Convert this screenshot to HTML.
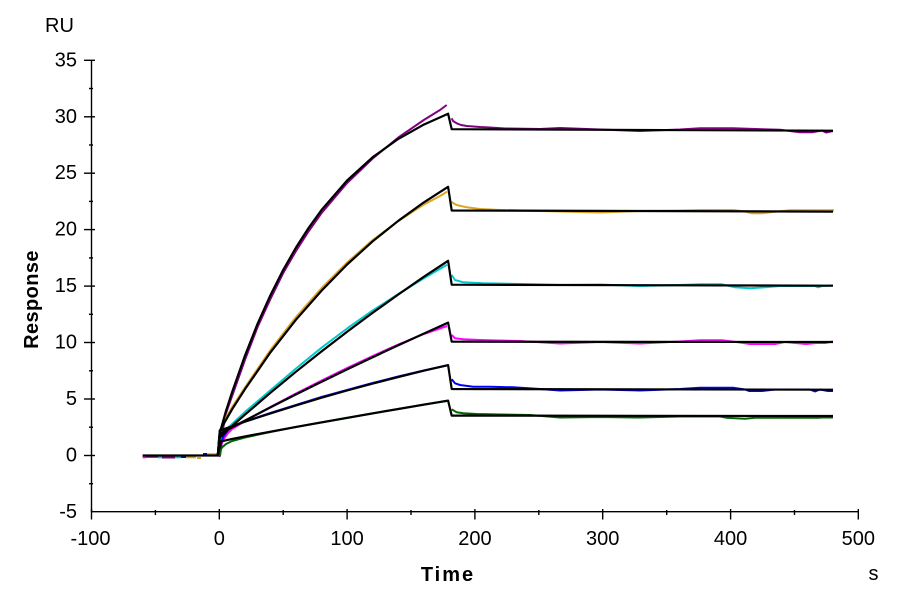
<!DOCTYPE html>
<html>
<head>
<meta charset="utf-8">
<style>
  html, body { margin: 0; padding: 0; background: #ffffff; }
  svg { display: block; }
  text { font-family: "Liberation Sans", Arial, sans-serif; fill: #000; }
</style>
</head>
<body>
<svg width="900" height="600" viewBox="0 0 900 600" xmlns="http://www.w3.org/2000/svg">
  <rect x="0" y="0" width="900" height="600" fill="#ffffff"/>

  <!-- Axes -->
  <g stroke="#000" stroke-width="1.4" fill="none">
    <line x1="91.5" y1="60" x2="91.5" y2="512"/>
    <line x1="91" y1="511.7" x2="858.6" y2="511.7"/>
    <line x1="84" y1="60.3" x2="95" y2="60.3"/>
    <line x1="84" y1="116.8" x2="95" y2="116.8"/>
    <line x1="84" y1="173.2" x2="95" y2="173.2"/>
    <line x1="84" y1="229.6" x2="95" y2="229.6"/>
    <line x1="84" y1="286.1" x2="95" y2="286.1"/>
    <line x1="84" y1="342.5" x2="95" y2="342.5"/>
    <line x1="84" y1="399" x2="95" y2="399"/>
    <line x1="84" y1="455.5" x2="95" y2="455.5"/>
    <line x1="89" y1="88.5" x2="93" y2="88.5"/>
    <line x1="89" y1="145" x2="93" y2="145"/>
    <line x1="89" y1="201.4" x2="93" y2="201.4"/>
    <line x1="89" y1="257.9" x2="93" y2="257.9"/>
    <line x1="89" y1="314.3" x2="93" y2="314.3"/>
    <line x1="89" y1="370.8" x2="93" y2="370.8"/>
    <line x1="89" y1="427.2" x2="93" y2="427.2"/>
    <line x1="89" y1="483.7" x2="93" y2="483.7"/>
    <line x1="91.5" y1="509" x2="91.5" y2="519.5"/>
    <line x1="219.3" y1="509" x2="219.3" y2="519.5"/>
    <line x1="347.1" y1="509" x2="347.1" y2="519.5"/>
    <line x1="474.9" y1="509" x2="474.9" y2="519.5"/>
    <line x1="602.7" y1="509" x2="602.7" y2="519.5"/>
    <line x1="730.6" y1="509" x2="730.6" y2="519.5"/>
    <line x1="858.3" y1="509" x2="858.3" y2="519.5"/>
    <line x1="155.4" y1="510" x2="155.4" y2="515"/>
    <line x1="283.2" y1="510" x2="283.2" y2="515"/>
    <line x1="411" y1="510" x2="411" y2="515"/>
    <line x1="538.8" y1="510" x2="538.8" y2="515"/>
    <line x1="666.7" y1="510" x2="666.7" y2="515"/>
    <line x1="794.5" y1="510" x2="794.5" y2="515"/>
  </g>

  <g font-size="20" text-anchor="end">
    <text x="77" y="66.3">35</text>
    <text x="77" y="122.8">30</text>
    <text x="77" y="179.2">25</text>
    <text x="77" y="235.6">20</text>
    <text x="77" y="292.1">15</text>
    <text x="77" y="348.5">10</text>
    <text x="77" y="405">5</text>
    <text x="77" y="461.5">0</text>
    <text x="77" y="518">-5</text>
  </g>
  <g font-size="20" text-anchor="middle">
    <text x="90.5" y="545">-100</text>
    <text x="219.3" y="545">0</text>
    <text x="347.1" y="545">100</text>
    <text x="474.9" y="545">200</text>
    <text x="602.7" y="545">300</text>
    <text x="730.6" y="545">400</text>
    <text x="858.3" y="545">500</text>
  </g>

  <text x="45" y="32" font-size="20">RU</text>
  <text x="873.5" y="580" font-size="20" text-anchor="middle">s</text>
  <text x="448" y="581" font-size="20" font-weight="bold" text-anchor="middle" letter-spacing="2">Time</text>
  <text transform="translate(38,299.5) rotate(-90)" font-size="20" font-weight="bold" text-anchor="middle" letter-spacing="0.4">Response</text>

  <g stroke-width="2" fill="none">
    <line x1="142.6" y1="457.3" x2="146" y2="457.3" stroke="#ff00ff"/>
    <line x1="146" y1="456.8" x2="158" y2="456.8" stroke="#800080"/>
    <line x1="158" y1="457.3" x2="162" y2="457.3" stroke="#00c8cc"/>
    <line x1="162" y1="457.5" x2="175" y2="457.5" stroke="#800080"/>
    <line x1="175" y1="457.3" x2="181" y2="457.3" stroke="#00c8cc"/>
    <line x1="181" y1="457" x2="186" y2="457" stroke="#0000ff"/>
    <line x1="186" y1="457.3" x2="196" y2="457.3" stroke="#daa520"/>
    <line x1="197" y1="458" x2="201" y2="458" stroke="#daa520"/>
    <line x1="203" y1="454" x2="207" y2="454" stroke="#0000ff"/>
    <line x1="207" y1="454.2" x2="218" y2="454.2" stroke="#daa520"/>
  </g>

  <g stroke-width="2" fill="none" stroke-linejoin="round">
    <path stroke="#800080" d="M219.5,457 L221.5,440 L222.5,432 L225.7,414 L232.1,396 L244.9,360 L257.6,327 L270.4,299 L283.2,273 L296,251 L308.8,231 L321.6,213 L347.1,183 L372.7,158.5 L398.3,137.5 L423.8,120 L440,110 L446.7,105"/>
    <path stroke="#800080" d="M451.7,118.3 L453,121 L456.7,123.3 L461,125 L466.7,126 L480,127 L490,127.5 L505,128.5 L540,129 L560,128 L600,129.5 L640,131 L680,129.5 L700,128.3 L733,128.3 L780,129.8 L800,132.3 L812,132.3 L822,130.5 L826,132.5 L833,131"/>
    <path stroke="#daa520" d="M219.5,456 L220.5,432 L222,425 L232.1,407 L244.9,387.5 L270.4,350 L296,317 L321.6,288 L347.1,262.5 L372.7,240 L398.3,221 L423.8,204.5 L440,196 L447,191.7"/>
    <path stroke="#daa520" d="M451.7,201.7 L453,203 L456.7,205 L466.7,207.3 L480,209 L495,209.8 L520,210.5 L560,211.5 L600,212.5 L640,211 L680,210.5 L700,210 L733,210 L745,211.5 L752,213.3 L762,213.3 L775,211.8 L790,210.2 L834,210.2"/>
    <path stroke="#00c8cc" d="M219.5,456 L221,440 L223,433 L228,428 L232.1,424 L244.9,412 L270.4,390.3 L296,368.5 L321.6,347.7 L347.1,328.5 L372.7,310.5 L398.3,294 L423.8,278.3 L447,264.8"/>
    <path stroke="#00c8cc" d="M451.7,275 L455,280 L463.3,282.3 L483,283.3 L520,284 L560,285 L600,284.5 L640,286 L680,285 L700,284.3 L722,284.3 L735,287.3 L750,288.3 L765,287.3 L780,286 L815,286 L818,287.3 L822,286 L833,285.5"/>
    <path stroke="#ff00ff" d="M219.8,456 L221,447 L223,440 L228,433 L232.1,429 L244.9,421 L270.4,407 L296,393.5 L321.6,380.5 L347.1,368 L372.7,356 L398.3,344.5 L423.8,334 L447,326"/>
    <path stroke="#ff00ff" d="M451.7,335 L455,338.3 L463.3,339.3 L480,340 L497,340.5 L520,341 L560,343.5 L600,342 L640,343.5 L680,341.5 L700,340.3 L722,340.3 L740,342.5 L750,344 L775,344 L785,342 L806,344 L816,343 L825,343 L833,341.5"/>
    <path stroke="#0000ff" d="M219.8,456 L221,444 L223,437 L228,430 L232.1,427 L244.9,421.5 L270.4,413 L296,405 L321.6,397 L347.1,390 L372.7,383 L398.3,376.5 L423.8,370.5 L447,365.5"/>
    <path stroke="#0000ff" d="M451.7,379.3 L455,383.3 L460,385 L473.3,386.7 L490,386.7 L513,387.3 L540,389 L560,390.5 L600,389.5 L640,390.5 L680,389 L700,387.7 L733,387.7 L745,389.5 L749,391 L762,391 L775,389.5 L810,389.5 L815,391.5 L820,389.5 L828,391 L833,391"/>
    <path stroke="#006400" d="M220,456 L221,449 L222.5,447 L226,444 L232.1,441 L244.9,437.5 L270.4,432 L296,427 L321.6,422.5 L347.1,418 L372.7,413.5 L398.3,409 L423.8,404.5 L447,401"/>
    <path stroke="#006400" d="M451.7,409.3 L456.7,412.3 L463.3,413.3 L476.7,414 L500,414.5 L530,415 L560,417.5 L600,417 L640,417.5 L680,416.5 L720,416.5 L726,417.7 L745,418.7 L755,417.7 L792,417.7 L818,417.7 L823,417.5 L833,417.5"/>
  </g>

  <g stroke="#000" stroke-width="2.2" fill="none" stroke-linejoin="round">
    <path d="M142.6,455.5 L218.5,455.5"/>
    <path d="M217.8,455.5 L219.8,432.9 L225.7,411.9 L232.1,392.1 L244.9,355.8 L257.6,323.7 L270.4,295.2 L283.2,269.9 L296,247.5 L308.8,227.6 L321.6,209.9 L347.1,180.5 L372.7,157.2 L398.3,138.9 L423.8,124.6 L448.1,113.7 L451.7,129.2 L833,130.7"/>
    <path d="M217.8,455.5 L219.8,430.7 L232.1,409.3 L244.9,389.3 L270.4,352.4 L296,319.7 L321.6,290.6 L347.1,264.5 L372.7,241.3 L398.3,220.8 L423.8,202.4 L448.1,186.8 L451.7,210.5 L833,211.6"/>
    <path d="M217.8,455.5 L219.8,437.4 L232.1,426 L244.9,414.7 L270.4,392.8 L296,371.7 L321.6,351.4 L347.1,331.7 L372.7,312.8 L398.3,294.5 L423.8,276.8 L448.1,260.8 L451.7,284.7 L833,285.7"/>
    <path d="M217.8,455.5 L219.8,434 L232.1,427.3 L244.9,420.6 L270.4,407.4 L296,394.4 L321.6,381.8 L347.1,369.4 L372.7,357.2 L398.3,345.3 L423.8,333.6 L448.1,322.6 L451.7,341.7 L833,342"/>
    <path d="M217.8,455.5 L219.8,430.7 L232.1,426.2 L244.9,421.7 L270.4,413.4 L296,405.4 L321.6,397.7 L347.1,390.5 L372.7,383.6 L398.3,377 L423.8,370.7 L448.1,365.1 L451.7,389 L833,389.7"/>
    <path d="M217.8,455.5 L221,441.4 L232.1,438.9 L244.9,436.4 L270.4,431.7 L296,426.9 L321.6,422.3 L347.1,417.8 L372.7,413.3 L398.3,409 L423.8,404.7 L448.1,400.6 L451.7,415.6 L833,416"/>
  </g>
</svg>
</body>
</html>
